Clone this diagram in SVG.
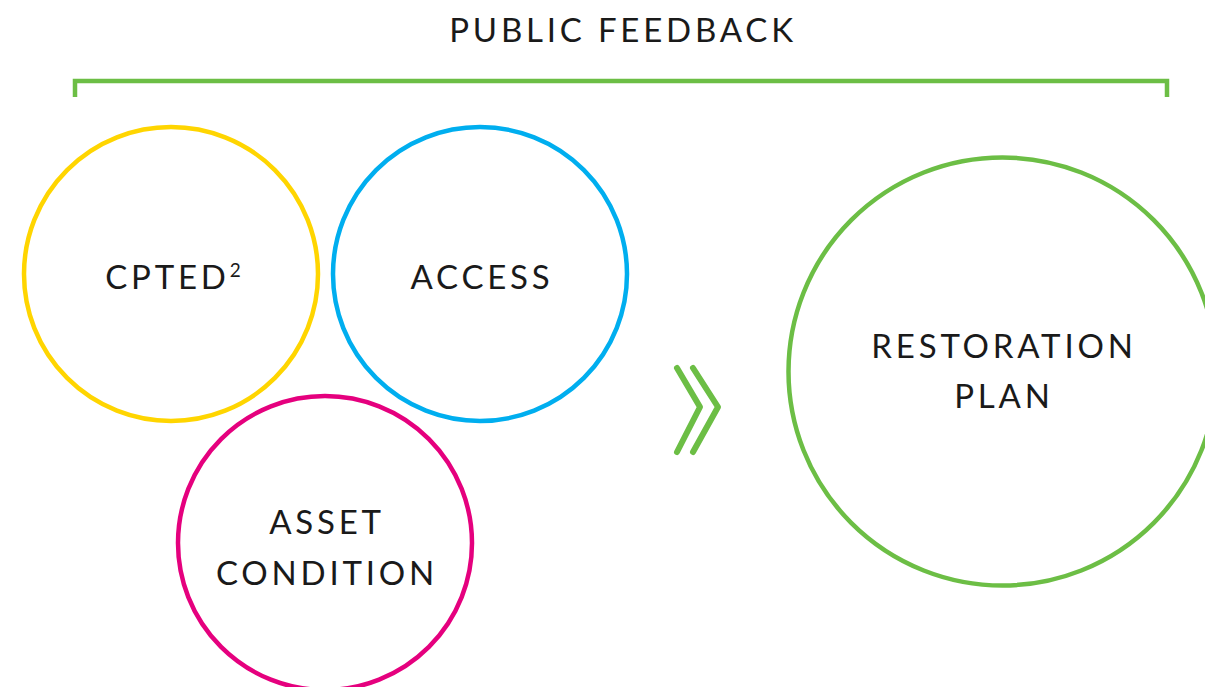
<svg xmlns="http://www.w3.org/2000/svg" width="1205" height="687" viewBox="0 0 1205 687">
<style>
.t{font-family:Lato,"Noto Sans","Liberation Sans",sans-serif;font-size:33px;fill:#1a1a1a;letter-spacing:3.8px;text-anchor:middle}
.c{fill:none;stroke-width:4.5}
.g{fill:none;stroke:#6cbe45;stroke-width:4.5}
</style>
<rect width="1205" height="687" fill="#fff"/>
<g id="title">
<text class="t" x="623" y="42">PUBLIC FEEDBACK</text>
<path class="g" d="M75 97V81H1167V97"/>
</g>
<g id="cpted">
<circle class="c" cx="171" cy="274" r="147" stroke="#ffd500"/>
<text class="t" x="173" y="289">CPTED<tspan font-size="19" dy="-12" letter-spacing="0">2</tspan></text>
</g>
<g id="access">
<circle class="c" cx="480" cy="274" r="147" stroke="#00aeef"/>
<text class="t" x="482" y="289">ACCESS</text>
</g>
<g id="asset">
<circle class="c" cx="325" cy="543" r="147" stroke="#e5007e"/>
<text class="t" x="327" y="534">ASSET</text>
<text class="t" x="327" y="585">CONDITION</text>
</g>
<g id="restoration">
<circle class="c" cx="1002.5" cy="371.5" r="214" stroke="#6cbe45"/>
<text class="t" x="1004" y="358">RESTORATION</text>
<text class="t" x="1004" y="408">PLAN</text>
</g>
<g id="connectors">
<path d="M677 368L700 407L677 452M693 368L718 407L693 452" fill="none" stroke="#6cbe45" stroke-width="6" stroke-linecap="round" stroke-linejoin="round"/>
</g>
</svg>
